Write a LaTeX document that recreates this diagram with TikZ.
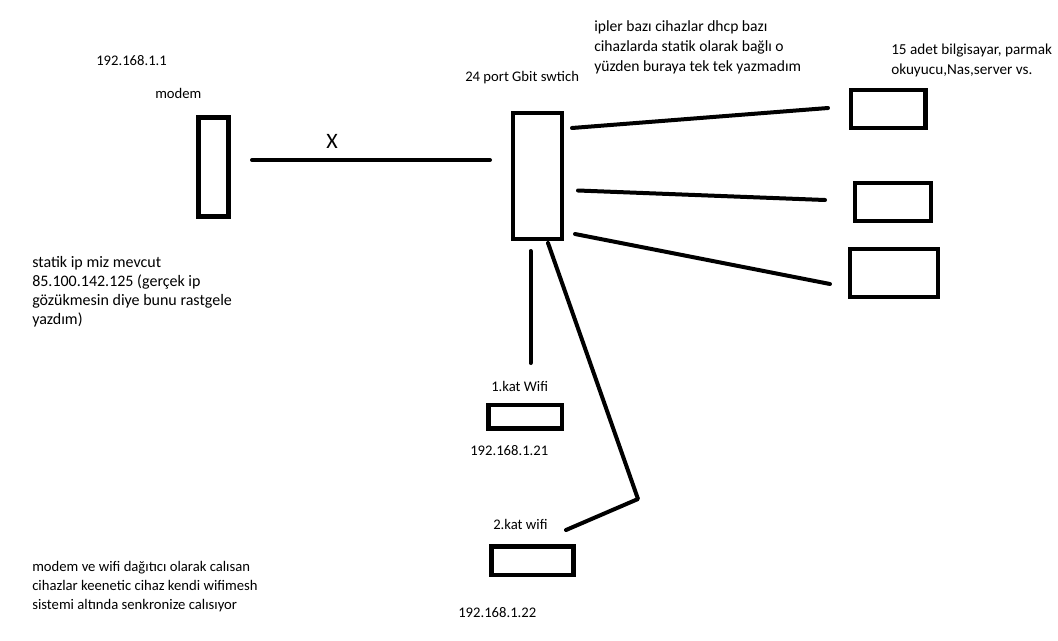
\documentclass[tikz,border=0pt]{standalone}
\usepackage{fontspec}
\setmainfont{Carlito}
\begin{document}
\begin{tikzpicture}[x=0.75pt,y=-0.75pt,
  box/.style={draw=black,line width=3.6pt,inner sep=0pt,fill=white},
  wire/.style={draw=black,line width=3pt,line cap=round},
  lbl/.style={inner sep=0pt,anchor=base west,font=\fontsize{11}{14.2}\selectfont,align=left}]
\useasboundingbox[fill=white] (0,0) rectangle (1058,640);
% boxes
\node[box,minimum width=22.5pt,minimum height=74.25pt] (modem) at (213.5,167) {};
\node[box,minimum width=36.75pt,minimum height=94.5pt] (switch) at (537.5,176) {};
\node[box,minimum width=55.9pt,minimum height=28.5pt] (pc1) at (888.25,109) {};
\node[box,minimum width=57pt,minimum height=28.5pt] (pc2) at (893,202) {};
\node[box,minimum width=66pt,minimum height=36pt] (pc3) at (894,273) {};
\node[box,minimum width=55.1pt,minimum height=17.6pt] (wifi1) at (525.25,416.75) {};
\node[box,minimum width=61.5pt,minimum height=21.4pt] (wifi2) at (532.5,560.75) {};
% connector end points
\coordinate (m1) at (252,160);
\coordinate (m2) at (490,160);
\coordinate (a1) at (572,128);
\coordinate (b1) at (828,108);
\coordinate (a2) at (578,190.5);
\coordinate (b2) at (825,200);
\coordinate (a3) at (575,234);
\coordinate (b3) at (830,284);
\coordinate (v1) at (530.5,251);
\coordinate (v2) at (530.5,363);
\coordinate (d1) at (548,243);
\coordinate (d2) at (638,499);
\coordinate (d3) at (566,530);
% connectors
\draw[wire] (m1) -- (m2);
\draw[wire] (a1) -- (b1);
\draw[wire] (a2) -- (b2);
\draw[wire] (a3) -- (b3);
\draw[wire] (v1) -- (v2);
\draw[wire,line join=round] (d1) -- (d2) -- (d3);
% labels (multi-line labels are placed by the baseline of their last line)
\node[inner sep=0pt,font=\fontsize{16.5}{18}\selectfont] (x) at (332,141) {X};
\node[lbl] (ipmodem) at (96,65) {192.168.1.1};
\node[lbl] (tmodem) at (155,98) {modem};
\node[lbl] (tswitch) at (465,81) {24 port Gbit swtich};
\node[lbl,font=\fontsize{11.7}{15}\selectfont] (tnote) at (594,71) {ipler bazı cihazlar dhcp bazı\\cihazlarda statik olarak bağlı o\\yüzden buraya tek tek yazmadım};
\node[lbl,font=\fontsize{11.4}{14.3}\selectfont] (tpcs) at (891,74) {15 adet bilgisayar, parmak\\okuyucu,Nas,server vs.};
\node[lbl,font=\fontsize{12}{14.25}\selectfont] (tstatik) at (32,324) {statik ip miz mevcut\\85.100.142.125 (gerçek ip\\gözükmesin diye bunu rastgele\\yazdım)};
\node[lbl] (twifi1) at (491,391) {1.kat Wifi};
\node[lbl] (ipwifi1) at (470,455) {192.168.1.21};
\node[lbl] (twifi2) at (493,529) {2.kat wifi};
\node[lbl] (ipwifi2) at (458,617) {192.168.1.22};
\node[lbl] (tmesh) at (32,609) {modem ve wifi dağıtıcı olarak calısan\\cihazlar keenetic cihaz kendi wifimesh\\sistemi altında senkronize calısıyor};
\end{tikzpicture}
\end{document}
